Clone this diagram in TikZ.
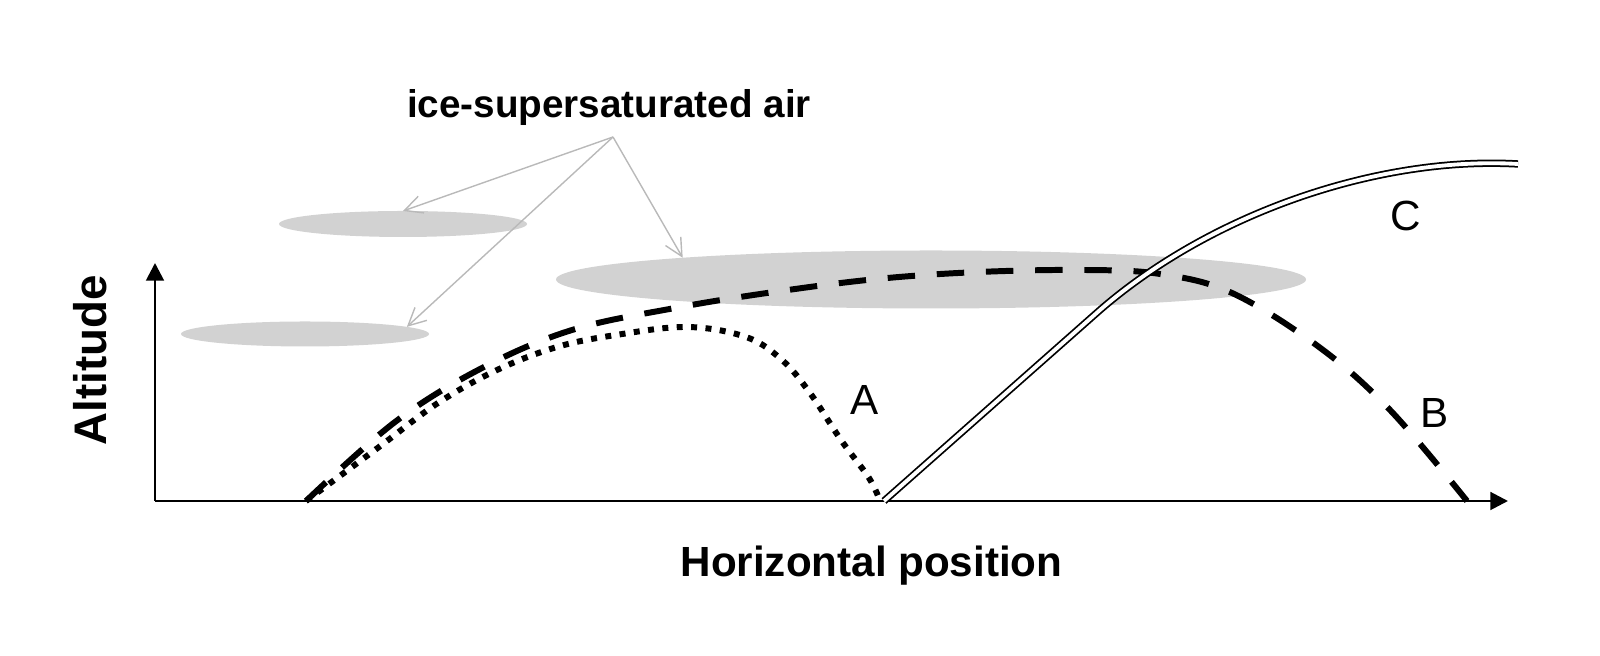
\documentclass[tikz,border=0pt]{standalone}
\usepackage{fontspec}
\setmainfont{Liberation Sans}
\usetikzlibrary{arrows.meta,shapes.geometric}
\tikzset{
  axis/.style={line width=0.8pt,-{Triangle[length=5pt,width=5pt]}},
  haze/.style={ellipse,fill=gray!35,draw=none,inner sep=0pt,outer sep=0pt},
  pointer/.style={draw=gray!55,line width=0.4pt,-{Straight Barb[length=5pt,width=5pt]}},
  dotpath/.style={line width=1.7pt,dash pattern=on 1.7pt off 2.4pt},
  dashpath/.style={line width=1.7pt,dash pattern=on 7.8pt off 6.2pt},
  dblpath/.style={line width=0.5pt,double=white,double distance=1.1pt},
  lbl/.style={font=\fontsize{12}{14}\selectfont,inner sep=0pt},
  axlbl/.style={font=\bfseries\fontsize{12}{14}\selectfont,inner sep=0pt}
}

\begin{document}
\begin{tikzpicture}
  \useasboundingbox (0,0) rectangle (16,6.56);
  \coordinate (O) at (1.55,1.55);
  \coordinate (xend) at (15.08,1.55);
  \coordinate (yend) at (1.55,3.93);
  \coordinate (startC) at (8.84,1.55);
  \coordinate (endC) at (15.18,4.92);

  % ice-supersaturated regions
  \node[haze,minimum width=2.48cm,minimum height=0.26cm] (cloudhi) at (4.03,4.32) {};
  \node[haze,minimum width=2.48cm,minimum height=0.25cm] (cloudlo) at (3.05,3.22) {};
  \node[haze,minimum width=7.5cm,minimum height=0.58cm] (cloudmid) at (9.31,3.765) {};

  % axes
  \draw[axis] (O) -- (xend);
  \draw[axis] (O) -- (yend);
  \node[axlbl,anchor=base] (xlab) at (8.715,0.79) {Horizontal position};
  \node[axlbl,font=\bfseries\fontsize{13}{15}\selectfont,rotate=90] (ylab) at (0.90,2.96) {Altitude};

  % trajectories
  \draw[dotpath] plot[smooth,tension=0.6] coordinates {(3.06,1.55) (3.79,2.09) (4.38,2.53) (4.97,2.86)
    (5.57,3.09) (6.16,3.21) (6.87,3.29) (7.46,3.19) (7.82,2.96) (8.10,2.63) (8.41,2.16) (8.69,1.78) (8.80,1.55)};
  \draw[dashpath] plot[smooth,tension=0.6] coordinates {(3.06,1.55) (3.95,2.34) (4.82,2.88) (5.72,3.26)
    (6.75,3.48) (7.74,3.64) (8.77,3.77) (9.79,3.84) (10.84,3.86) (11.60,3.82) (12.32,3.63) (13.19,3.09)
    (13.90,2.46) (14.67,1.55)};
  \draw[dblpath] (startC) -- (11.00,3.46) .. controls (12.13,4.44) and (13.80,5.00) .. (endC);

  \node[lbl] (labA) at (8.65,2.56) {A};
  \node[lbl] (labB) at (14.35,2.43) {B};
  \node[lbl] (labC) at (14.06,4.40) {C};

  % annotation
  \node[font=\bfseries\fontsize{11}{13}\selectfont,anchor=base,inner sep=0pt] (title) at (6.09,5.38) {ice-supersaturated air};
  \coordinate (fork) at (6.13,5.19);
  \draw[pointer] (fork) -- (cloudhi.north);
  \draw[pointer] (fork) -- (cloudlo.4);
  \draw[pointer] (fork) -- (cloudmid.175);
\end{tikzpicture}
\end{document}
